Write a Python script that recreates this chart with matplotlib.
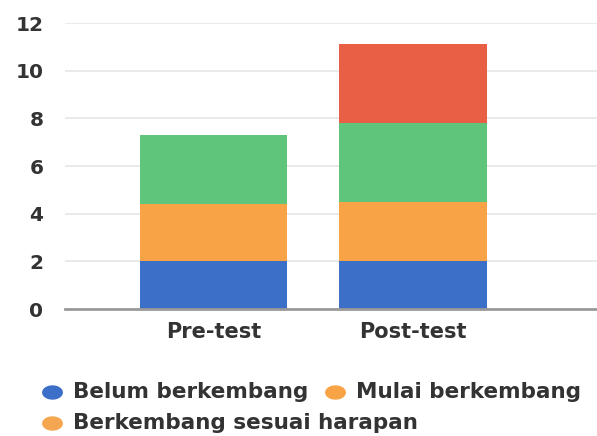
import matplotlib
matplotlib.use("Agg")
import matplotlib.pyplot as plt
from matplotlib.lines import Line2D
from matplotlib.path import Path
import numpy as np

categories = ["Pre-test", "Post-test"]
series_names = ["Belum berkembang", "Mulai berkembang", "Berkembang sesuai harapan", "Berkembang sangat baik"]
belum = [2.0, 2.0]
mulai = [2.4, 2.5]
sesuai = [2.9, 3.3]
sangat = [0.0, 3.3]
yticks = [0, 2, 4, 6, 8, 10, 12]

colors = ["#3c6fc8", "#f8a346", "#5ec57b", "#e95f46"]
legend_colors = ["#3c6fc8", "#f8a346", "#f5a650"]
text_color = "#333333"

plt.rcParams['font.family'] = ['DejaVu Sans']
fig = plt.figure(figsize=(5.97, 4.36), dpi=100)
W, H = 597, 436
ax = fig.add_axes([65 / W, 1 - 309 / H, 1 - 65 / W, (309 - 23) / H])

x = np.arange(len(categories))
bottom = np.zeros(len(categories))
for vals, c, name in zip([belum, mulai, sesuai, sangat], colors, series_names):
    ax.bar(x, vals, width=0.74, bottom=bottom, color=c, label=name, zorder=3)
    bottom += np.array(vals)

ax.set_xlim(-0.744, 1.92)
ax.set_ylim(0, 12)
ax.set_yticks(yticks)
ax.set_xticks(x)
ax.set_xticklabels(categories)
ax.grid(axis='y', color='#e6e6e6', linewidth=1.2, zorder=0)
for s in ['top', 'right', 'left']:
    ax.spines[s].set_visible(False)
ax.spines['bottom'].set_color('#9a9a9a')
ax.spines['bottom'].set_linewidth(2)
ax.spines['bottom'].set_zorder(4)
ax.tick_params(axis='both', length=0, colors=text_color)
ax.tick_params(axis='y', pad=15.5, labelsize=14.5)
ax.tick_params(axis='x', pad=9, labelsize=15)
for lab in ax.get_xticklabels() + ax.get_yticklabels():
    lab.set_fontweight('bold')

# wide ellipse marker (the reference screenshot is horizontally stretched)
t = np.linspace(0, 2 * np.pi, 60)
ellipse = Path(np.column_stack([1.5 * np.cos(t), np.sin(t)]), closed=True)

entries = [(series_names[0], legend_colors[0], 51.5, 398),
           (series_names[1], legend_colors[1], 335, 398),
           (series_names[2], legend_colors[2], 51.5, 429)]
for name, c, px, py in entries:
    fig.add_artist(Line2D([px / W], [1 - (py - 6) / H], marker=ellipse, markersize=14,
                          color=c, linestyle='none', transform=fig.transFigure))
    fig.text((px + 21.5) / W, 1 - py / H, name, fontsize=15.5, color=text_color,
             fontweight='bold', va='baseline', ha='left')

fig.savefig("out.png", dpi=100)
